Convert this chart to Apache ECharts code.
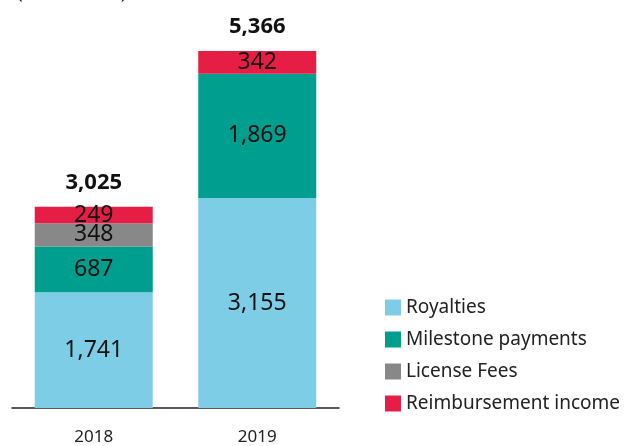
<!DOCTYPE html>
<html>
<head>
<meta charset="utf-8">
<script src="https://cdn.jsdelivr.net/npm/echarts@6/dist/echarts.min.js"></script>
<style>
  html, body { margin: 0; padding: 0; background: #fff; }
  #chart { width: 624px; height: 446px; }
</style>
</head>
<body>
<div id="chart"></div>
<script>
const years = ['2018', '2019'];
const royalties = [1741, 3155];
const milestones = [687, 1869];
const licenseFees = [348, 0];
const reimbursement = [249, 342];
const totals = years.map((_, i) => royalties[i] + milestones[i] + licenseFees[i] + reimbursement[i]);

const font = 'Noto Sans';
const fmt = (v) => v ? v.toLocaleString('en-US') : '';

function seg(name, data, color) {
  return {
    name: name,
    type: 'bar',
    stack: 'rev',
    data: data,
    barWidth: 118,
    itemStyle: { color: color },
    label: {
      show: true,
      position: 'inside',
      color: '#111',
      fontFamily: font,
      fontSize: 23,
      formatter: (p) => fmt(p.value)
    }
  };
}

const chart = echarts.init(document.getElementById('chart'));
chart.setOption({
  animation: false,
  grid: { left: 12, right: 285, top: 51, bottom: 36 },
  graphic: [{
    type: 'text', left: 17, top: -17,
    style: { text: '(in € million)', font: '19px "Noto Sans"', fill: '#222' }
  }],
  legend: {
    orient: 'vertical',
    left: 380,
    top: 293,
    itemWidth: 16,
    itemHeight: 16,
    itemGap: 13,
    icon: 'rect',
    textStyle: { fontFamily: font, fontSize: 19, color: '#222' },
    data: ['Royalties', 'Milestone payments', 'License Fees', 'Reimbursement income']
  },
  xAxis: {
    type: 'category',
    data: years,
    axisLine: { lineStyle: { color: '#222', width: 1.5 } },
    axisTick: { show: false },
    axisLabel: { color: '#222', fontFamily: font, fontSize: 17, margin: 21 }
  },
  yAxis: {
    type: 'value',
    min: 0,
    max: Math.max(...totals),
    show: false,
    splitLine: { show: false }
  },
  series: [
    seg('Royalties', royalties, '#7ecde6'),
    seg('Milestone payments', milestones, '#009e8f'),
    seg('License Fees', licenseFees, '#888888'),
    seg('Reimbursement income', reimbursement, '#e61e45'),
    {
      name: 'Total',
      type: 'bar',
      stack: 'rev',
      data: years.map(() => 0),
      barWidth: 118,
      label: {
        show: true,
        position: 'top',
        distance: 13,
        color: '#111',
        fontFamily: font,
        fontWeight: 'bold',
        fontSize: 22,
        formatter: (p) => fmt(totals[p.dataIndex])
      }
    }
  ]
});
</script>
</body>
</html>
